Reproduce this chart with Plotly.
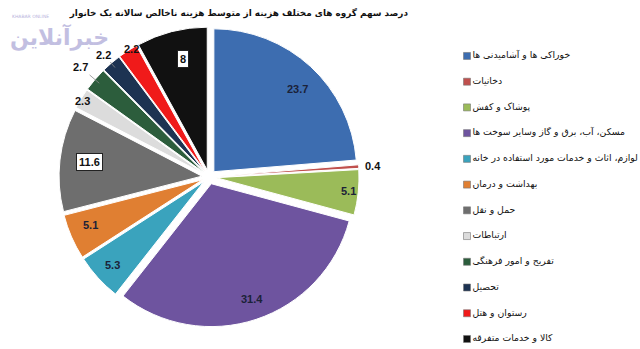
import math
import plotly.graph_objects as go

# Household expense groups (share of average gross annual household expenditure, %)
categories = [
    "خوراکی ها و آشامیدنی ها",
    "دخانیات",
    "پوشاک و کفش",
    "مسکن، آب، برق و گاز وسایر سوخت ها",
    "لوازم، اثاث و خدمات مورد استفاده در خانه",
    "بهداشت و درمان",
    "حمل و نقل",
    "ارتباطات",
    "تفریح و امور فرهنگی",
    "تحصیل",
    "رستوان و هتل",
    "کالا و خدمات متفرقه",
]
shares = [23.7, 0.4, 5.1, 31.4, 5.3, 5.1, 11.6, 2.3, 2.7, 2.2, 2.2, 8]

# Styling per slice
colors = [
    "#3d6db0", "#c0504d", "#9bbb59", "#6e549f", "#3aa3bd", "#e07f32",
    "#6e6e6e", "#dcdcdc", "#2c5d3c", "#1d3352", "#f01a1a", "#111111",
]
label_style = ["in", "out", "in", "in", "in", "in",
               "box", "out", "lead", "lead", "out", "box"]
# label distance from the centre, as a fraction of the radius
label_radius = [0.86, 1.10, 0.93, 0.91, 0.95, 0.93, 0.89, 1.07, 1.13, 1.08, 1.08, 0.865]

W, H = 640, 349
dom_x = [0.0922, 0.5610]
dom_y = [0.063, 0.923]
PULL = 0.05

fig = go.Figure(go.Pie(
    labels=categories,
    values=shares,
    sort=False,
    direction="clockwise",
    rotation=0,
    pull=PULL,
    marker=dict(colors=colors, line=dict(color="white", width=1)),
    textinfo="none",
    domain=dict(x=dom_x, y=dom_y),
    hoverinfo="label+value",
    showlegend=False,
))

# Key: one coloured square per group, stacked on a hidden category axis
fig.add_trace(go.Scatter(
    x=[0] * len(categories),
    y=categories,
    mode="markers+text",
    marker=dict(symbol="square", size=7, color=colors,
                line=dict(color="#777777", width=0.6)),
    text=categories,
    textposition="middle right",
    textfont=dict(family="DejaVu Sans", size=9.3, color="#111111"),
    hoverinfo="skip",
    showlegend=False,
    cliponaxis=False,
    xaxis="x", yaxis="y",
))

# Value labels at the mid-angle of each slice
cx = (dom_x[0] + dom_x[1]) / 2 * W
cy = (dom_y[0] + dom_y[1]) / 2 * H          # measured from the bottom
r = min((dom_x[1] - dom_x[0]) * W, (dom_y[1] - dom_y[0]) * H) / 2 / (1 + PULL)
total = sum(shares)
cum = 0.0
for v, style, f in zip(shares, label_style, label_radius):
    ang = (cum + v / 2) / total * 2 * math.pi
    cum += v
    s, c = math.sin(ang), math.cos(ang)
    d = r * (f + PULL)
    lx, ly = cx + d * s, cy + d * c
    font = dict(family="Liberation Sans", size=11, color="#1b2238", weight="bold")
    dark = dict(font, color="#111111")
    if style == "box":
        fig.add_annotation(
            x=lx / W, y=ly / H, xref="paper", yref="paper", showarrow=False,
            text=f"{v:g}", font=dark,
            bgcolor="white", bordercolor="#222222", borderwidth=1, borderpad=2,
        )
    elif style == "lead":
        de = r * (0.96 + PULL)
        ex, ey = cx + de * s, cy + de * c
        fig.add_annotation(
            x=ex / W, y=ey / H, xref="paper", yref="paper",
            ax=lx - ex, ay=-(ly - ey),
            showarrow=True, arrowhead=0, arrowwidth=0.8, arrowcolor="#8a8a8a",
            text=f"{v:g}", font=dark,
        )
    else:
        fig.add_annotation(
            x=lx / W, y=ly / H, xref="paper", yref="paper", showarrow=False,
            text=f"{v:g}", font=dark if style == "out" else font,
        )

# Site watermark
fig.add_annotation(
    x=0.012, y=0.895, xref="paper", yref="paper", xanchor="left", yanchor="middle",
    showarrow=False, text="خبرآنلاین",
    font=dict(family="DejaVu Sans", size=22, color="#b8b4dc", weight="bold"),
    opacity=0.85,
)
fig.add_annotation(
    x=0.016, y=0.952, xref="paper", yref="paper", xanchor="left", yanchor="middle",
    showarrow=False, text="KHABAR ONLINE",
    font=dict(family="DejaVu Sans", size=4.5, color="#b8b4dc"),
)

n = len(categories)
fig.update_layout(
    width=W, height=H,
    margin=dict(l=0, r=0, t=0, b=0, autoexpand=False),
    paper_bgcolor="white",
    plot_bgcolor="rgba(0,0,0,0)",
    title=dict(
        text="درصد سهم گروه های مختلف هزینه از متوسط هزینه ناخالص سالانه یک خانوار",
        x=0.6375, xanchor="right", y=0.963, yanchor="middle",
        font=dict(family="DejaVu Sans", size=8.9, color="#111111", weight="bold"),
    ),
    xaxis=dict(domain=[0.7, 1.0], range=[-19, 173], visible=False, fixedrange=True),
    yaxis=dict(domain=[0, 1], type="category", categoryarray=categories,
               range=[n - 1 + 0.39, -2.175], visible=False, fixedrange=True),
    showlegend=False,
)

fig.write_html("out.html")
